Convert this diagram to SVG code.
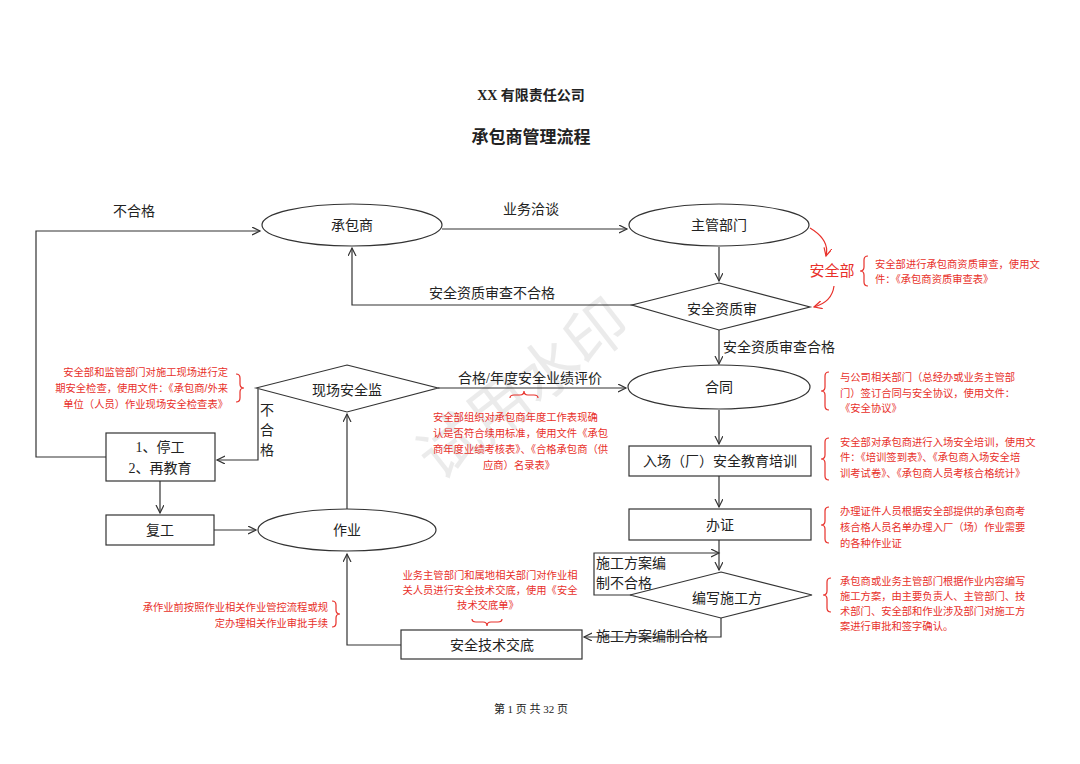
<svg xmlns="http://www.w3.org/2000/svg" width="1080" height="764" viewBox="0 0 1080 764">
<defs>
<marker id="arr" markerWidth="10" markerHeight="10" refX="8" refY="4" orient="auto" markerUnits="userSpaceOnUse">
<path d="M0,0 L8,4 L0,8" fill="none" stroke="#333" stroke-width="1.2"/>
</marker>
<marker id="arrR" markerWidth="10" markerHeight="10" refX="8" refY="4" orient="auto" markerUnits="userSpaceOnUse">
<path d="M0,0 L8,4 L0,8" fill="none" stroke="#e8302a" stroke-width="1.2"/>
</marker>
</defs>
<style>
.shape{fill:#fff;stroke:#333;stroke-width:1.2}
.ln{fill:none;stroke:#333;stroke-width:1.2}
.lnR{fill:none;stroke:#e8302a;stroke-width:1.2}
.t{font-family:"Liberation Serif","Noto Sans CJK SC",serif;font-size:14px;fill:#222}
.c{text-anchor:middle;dominant-baseline:central}
.r{font-family:"Liberation Sans","Noto Sans CJK SC",sans-serif;font-size:10.3px;fill:#e8302a}
.wm{font-family:"Noto Sans CJK SC",sans-serif;font-size:62px;fill:#c8c8c8;opacity:0.35}
</style>
<rect width="1080" height="764" fill="#fff"/>

<text class="wm c" x="520" y="385" transform="rotate(-38 520 385)">试用水印</text>

<text class="t c" x="531" y="95" style="font-weight:bold;font-size:14px">XX 有限责任公司</text>
<text class="t c" x="531" y="137" style="font-weight:bold;font-size:17px">承包商管理流程</text>

<g id="connectors">
<path class="ln" d="M442,229 H627" marker-end="url(#arr)"/>
<path class="ln" d="M719,247 V281" marker-end="url(#arr)"/>
<path class="ln" d="M640,305 H352 V248" marker-end="url(#arr)"/>
<path class="ln" d="M719,330 V364" marker-end="url(#arr)"/>
<path class="ln" d="M438,388 H626" marker-end="url(#arr)"/>
<path class="ln" d="M719,410 V444" marker-end="url(#arr)"/>
<path class="ln" d="M719,476 V507" marker-end="url(#arr)"/>
<path class="ln" d="M719,540 V570" marker-end="url(#arr)"/>
<path class="ln" d="M632,595 H594 V553 H719" marker-end="url(#arr)"/>
<path class="ln" d="M721,618 V637 H584" marker-end="url(#arr)"/>
<path class="ln" d="M401,645 H347 V554" marker-end="url(#arr)"/>
<path class="ln" d="M347,509 V414" marker-end="url(#arr)"/>
<path class="ln" d="M258,389 V460 H217" marker-end="url(#arr)"/>
<path class="ln" d="M160,481 V513" marker-end="url(#arr)"/>
<path class="ln" d="M214,530 H256" marker-end="url(#arr)"/>
<path class="ln" d="M106,457 H36 V231 H260" marker-end="url(#arr)"/>
<path class="lnR" d="M810,228 Q830,240 826,256" marker-end="url(#arrR)"/>
<path class="lnR" d="M834,286 Q832,302 814,307" marker-end="url(#arrR)"/>
<text class="t c" x="531" y="209">业务洽谈</text>
<text class="t c" x="492" y="293">安全资质审查不合格</text>
<text class="t c" x="779" y="347">安全资质审查合格</text>
<text class="t c" x="530" y="378">合格/年度安全业绩评价</text>
<text class="t c" x="134" y="211">不合格</text>
<text class="t c" x="267" y="410">不</text>
<text class="t c" x="267" y="430">合</text>
<text class="t c" x="267" y="450">格</text>
<text class="t" x="596" y="568">施工方案编</text>
<text class="t" x="596" y="588">制不合格</text>
<text class="t c" x="652" y="636">施工方案编制合格</text>
</g>

<g id="n-chengbaoshang"><ellipse class="shape" cx="352" cy="225" rx="90" ry="21"/><text class="t c" x="352" y="225">承包商</text></g>
<g id="n-zhuguan"><ellipse class="shape" cx="719" cy="225" rx="90" ry="21"/><text class="t c" x="719" y="225">主管部门</text></g>
<g id="n-zizhi"><polygon class="shape" points="719,283 810,307 719,330 632,305"/><text class="t c" x="722" y="309">安全资质审</text></g>
<g id="n-hetong"><ellipse class="shape" cx="719" cy="387" rx="91" ry="22"/><text class="t c" x="719" y="387">合同</text></g>
<g id="n-jianjian"><polygon class="shape" points="347,365 438,388 347,412 256,388"/><text class="t c" x="347" y="390">现场安全监</text></g>
<g id="n-peixun"><rect class="shape" x="629" y="446" width="182" height="30"/><text class="t c" x="720" y="461">入场（厂）安全教育培训</text></g>
<g id="n-banzheng"><rect class="shape" x="629" y="509" width="182" height="31"/><text class="t c" x="720" y="525">办证</text></g>
<g id="n-bianxie"><polygon class="shape" points="721,572 812,595 721,618 630,595"/><text class="t c" x="727" y="598">编写施工方</text></g>
<g id="n-jiaodi"><rect class="shape" x="401" y="630" width="181" height="29"/><text class="t c" x="492" y="645">安全技术交底</text></g>
<g id="n-zuoye"><ellipse class="shape" cx="347" cy="530" rx="89" ry="21"/><text class="t c" x="347" y="530">作业</text></g>
<g id="n-tinggong"><rect class="shape" x="106" y="433" width="109" height="48"/><text class="t c" x="160" y="447">1、停工</text><text class="t c" x="160" y="468">2、再教育</text></g>
<g id="n-fugong"><rect class="shape" x="106" y="515" width="108" height="30"/><text class="t c" x="160" y="530">复工</text></g>

<g id="notes">
<text class="c" x="832" y="271" style="font-family:'Liberation Serif','Noto Sans CJK SC',serif;font-size:15px;fill:#e8302a">安全部</text>
<path class="lnR" d="M868,256 q-4,0 -4,4 v7 q0,4 -4,4 q4,0 4,4 v7 q0,4 4,4"/>
<text class="r" x="875" y="268">安全部进行承包商资质审查，使用文</text>
<text class="r" x="875" y="283">件：《承包商资质审查表》</text>

<path class="lnR" d="M236,374 q4,0 4,4 v6 q0,4 4,4 q-4,0 -4,4 v6 q0,4 -4,4"/>
<text class="r" x="228" y="376" text-anchor="end">安全部和监管部门对施工现场进行定</text>
<text class="r" x="228" y="392" text-anchor="end">期安全检查，使用文件：《承包商/外来</text>
<text class="r" x="228" y="408" text-anchor="end">单位（人员）作业现场安全检查表》</text>

<path class="lnR" d="M510,398 q0,-3 4,-3 h6 q4,0 4,-4 q0,4 4,4 h6 q4,0 4,3"/>
<text class="r" x="433" y="421">安全部组织对承包商年度工作表现确</text>
<text class="r" x="433" y="437">认是否符合续用标准，使用文件《承包</text>
<text class="r" x="433" y="453">商年度业绩考核表》、《合格承包商（供</text>
<text class="r" x="483" y="469">应商）名录表》</text>

<path class="lnR" d="M829,372 q-4,0 -4,4 v11 q0,4 -4,4 q4,0 4,4 v11 q0,4 4,4"/>
<text class="r" x="840" y="381">与公司相关部门（总经办或业务主管部</text>
<text class="r" x="840" y="397">门）签订合同与安全协议，使用文件：</text>
<text class="r" x="840" y="412">《安全协议》</text>

<path class="lnR" d="M829,438 q-4,0 -4,4 v13 q0,4 -4,4 q4,0 4,4 v13 q0,4 4,4"/>
<text class="r" x="840" y="446">安全部对承包商进行入场安全培训，使用文</text>
<text class="r" x="840" y="461">件：《培训签到表》、《承包商入场安全培</text>
<text class="r" x="840" y="477">训考试卷》、《承包商人员考核合格统计》</text>

<path class="lnR" d="M829,507 q-4,0 -4,4 v10 q0,4 -4,4 q4,0 4,4 v10 q0,4 4,4"/>
<text class="r" x="840" y="515">办理证件人员根据安全部提供的承包商考</text>
<text class="r" x="840" y="531">核合格人员名单办理入厂（场）作业需要</text>
<text class="r" x="840" y="547">的各种作业证</text>

<path class="lnR" d="M831,578 q-4,0 -4,4 v9 q0,4 -4,4 q4,0 4,4 v9 q0,4 4,4"/>
<text class="r" x="840" y="585">承包商或业务主管部门根据作业内容编写</text>
<text class="r" x="840" y="600">施工方案，由主要负责人、主管部门、技</text>
<text class="r" x="840" y="615">术部门、安全部和作业涉及部门对施工方</text>
<text class="r" x="840" y="630">案进行审批和签字确认。</text>

<path class="lnR" d="M332,601 q4,0 4,4 v5 q0,4 4,4 q-4,0 -4,4 v5 q0,4 -4,4"/>
<text class="r" x="328" y="611" text-anchor="end">承作业前按照作业相关作业管控流程或规</text>
<text class="r" x="328" y="627" text-anchor="end">定办理相关作业审批手续</text>

<text class="r" x="490" y="579" text-anchor="middle">业务主管部门和属地相关部门对作业相</text>
<text class="r" x="490" y="594" text-anchor="middle">关人员进行安全技术交底，使用《安全</text>
<text class="r" x="488" y="609" text-anchor="middle">技术交底单》</text>
<path class="lnR" d="M472,619 q0,3 4,3 h7 q4,0 4,4 q0,-4 4,-4 h7 q4,0 4,-3"/>
</g>

<text class="t c" x="531" y="709" style="font-size:11px">第 1 页 共 32 页</text>
</svg>
